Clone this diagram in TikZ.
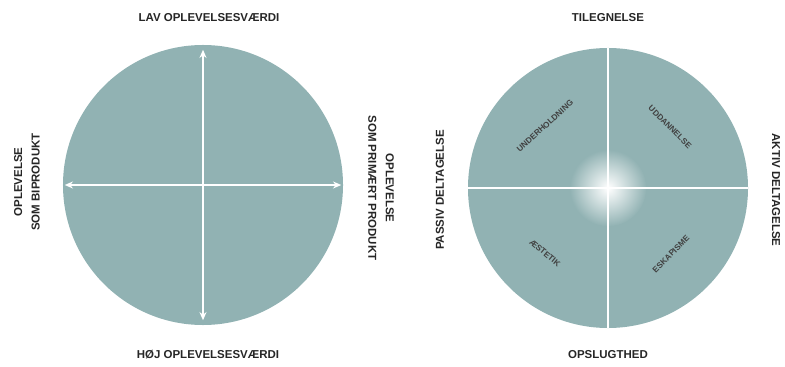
\documentclass[tikz,border=0pt]{standalone}
\usepackage{fontspec}
\setmainfont{Liberation Sans}
\usetikzlibrary{arrows.meta}
\definecolor{disc}{RGB}{145,178,179}
\tikzset{
  disk/.style={circle,fill=disc,draw=none,minimum size=8.4cm,inner sep=0pt},
  lbl/.style={font=\bfseries\fontsize{9.8}{15}\selectfont,text=black!85,align=center,inner sep=0pt},
  qlbl/.style={font=\bfseries\fontsize{7}{8}\selectfont,text=black!75,inner sep=0pt},
  axisarrow/.style={draw=white,line width=1.6pt,{Stealth[length=7pt,width=6pt]}-{Stealth[length=7pt,width=6pt]}},
  axisline/.style={draw=white,line width=1.6pt}
}
\begin{document}
\begin{tikzpicture}[x=0.03cm,y=-0.03cm]
\useasboundingbox (0,0) rectangle (785,367);
% left diagram
\node[disk] (c1) at (203,185) {};
\draw[axisarrow] ([yshift=-0.15cm]c1.north) -- ([yshift=0.15cm]c1.south);
\draw[axisarrow] ([xshift=0.06cm]c1.west) -- ([xshift=-0.06cm]c1.east);
\node[lbl] (t1) at (209,18) {LAV OPLEVELSESVÆRDI};
\node[lbl] (b1) at (208,355) {HØJ OPLEVELSESVÆRDI};
\node[lbl,rotate=90] (l1) at (27,182) {OPLEVELSE\\SOM BIPRODUKT};
\node[lbl,rotate=-90] (r1) at (381,188) {OPLEVELSE\\SOM PRIMÆRT PRODUKT};
% right diagram
\node[disk] (c2) at (608,188) {};
\begin{scope}
\clip (608,188) circle[radius=4.2cm];
\shade[inner color=white,outer color=disc] (608,188) circle[radius=1.15cm];
\end{scope}
\draw[axisline] (c2.north) -- (c2.south);
\draw[axisline] (c2.west) -- (c2.east);
\node[lbl] (t2) at (608,18) {TILEGNELSE};
\node[lbl] (b2) at (608,355) {OPSLUGTHED};
\node[lbl,rotate=90] (l2) at (440,190) {PASSIV DELTAGELSE};
\node[lbl,rotate=-90] (r2) at (776,190) {AKTIV DELTAGELSE};
\node[qlbl,rotate=42] (q1) at (545,126) {UNDERHOLDNING};
\node[qlbl,rotate=-45] (q2) at (670,127) {UDDANNELSE};
\node[qlbl,rotate=-40] (q3) at (545,253) {ÆSTETIK};
\node[qlbl,rotate=45] (q4) at (671,254) {ESKAPISME};
\end{tikzpicture}
\end{document}
